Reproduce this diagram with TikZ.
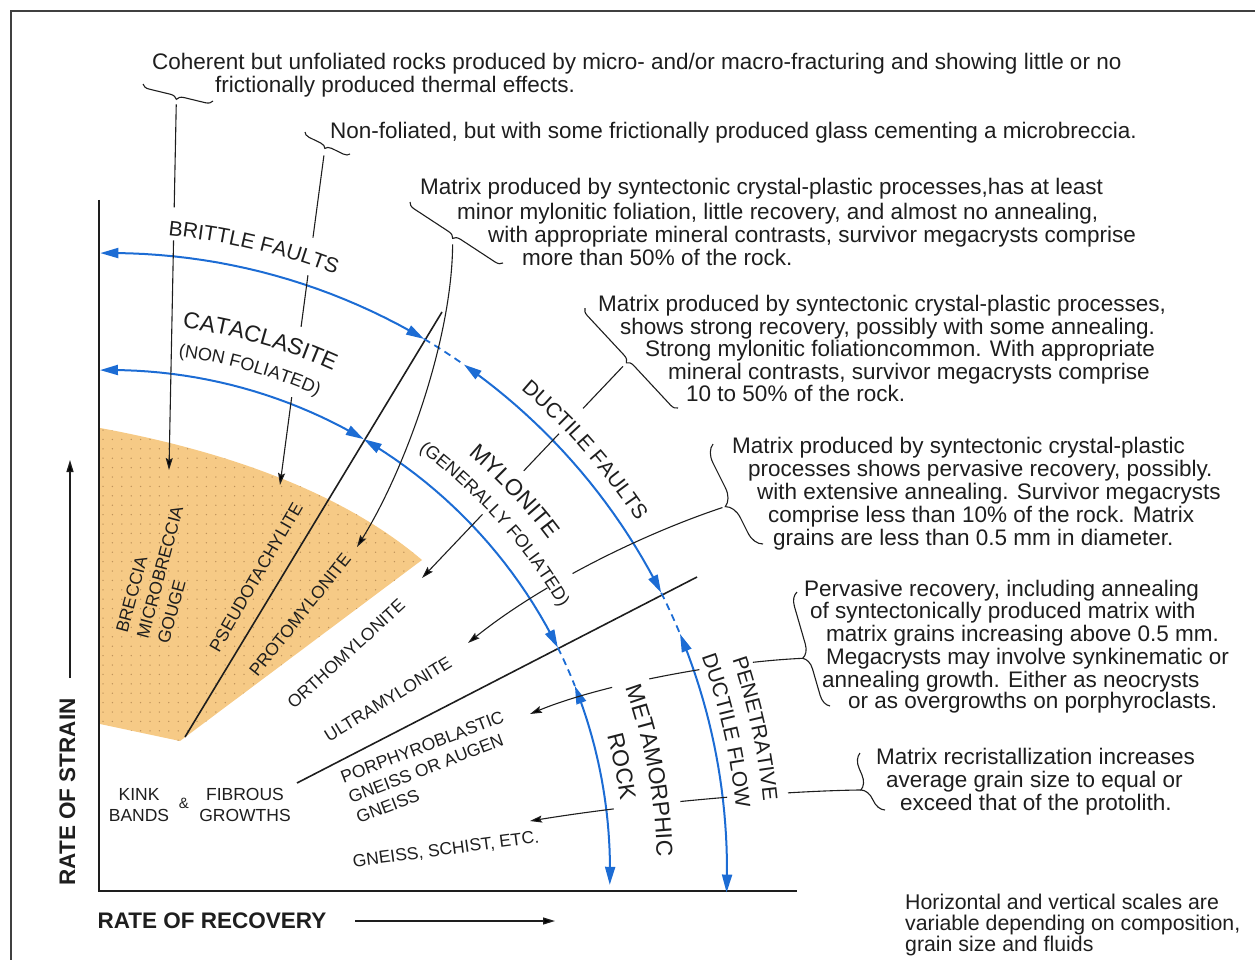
\documentclass[tikz,border=0pt]{standalone}
\usepackage{fontspec}
\setmainfont{Liberation Sans}
\usetikzlibrary{arrows.meta,decorations.text,decorations.pathreplacing,calc}
\definecolor{arcblue}{RGB}{28,108,212}
\definecolor{ochre}{RGB}{246,202,134}
\definecolor{dotc}{RGB}{190,146,90}
\definecolor{ink}{RGB}{30,30,30}
\newcommand{\arcseg}[3]{plot[domain=#2:#3, samples=24] ({110+#1*cos(\x)},{870+#1*sin(\x)})}
\newcommand{\fbody}{\fontsize{22.5}{24}\selectfont}
\newcommand{\fnote}{\fontsize{21.3}{23}\selectfont}
\newcommand{\flbl}{\fontsize{17.5}{21.5}\selectfont}
\newcommand{\faxis}{\fontsize{22.5}{24}\selectfont\bfseries}
\newcommand{\farcA}{\fontsize{21}{23}\selectfont}
\newcommand{\farcB}{\fontsize{23}{25}\selectfont}
\newcommand{\farcC}{\fontsize{18}{20}\selectfont}
\begin{document}
\begin{tikzpicture}[x=1pt,y=-1pt,
  txt/.style={anchor=base west, inner sep=0pt, font=\fbody, text=ink},
  note/.style={anchor=base west, inner sep=0pt, font=\fnote, text=ink},
  lbl/.style={inner sep=0pt, font=\flbl, text=ink},
  axislbl/.style={inner sep=0pt, font=\faxis, text=ink},
  leader/.style={draw=ink, line width=1.1pt},
  leadarrow/.style={leader, -{Stealth[length=12pt,width=7pt,inset=2pt]}},
  brc/.style 2 args={draw=ink, line width=1.1pt, decorate, decoration={brace, amplitude=#1, aspect=#2}},
  bluearc/.style={draw=arcblue, line width=2pt, {Triangle[length=18pt,width=10pt]}-{Triangle[length=18pt,width=10pt]}},
  bluedash/.style={draw=arcblue, line width=1.8pt, dash pattern=on 7pt off 5pt},
  arctext/.style 2 args={decorate, decoration={text along path, text color=ink, text align=center, text={|#1|#2}}},
  blackline/.style={draw=ink, line width=1.6pt},
]
\useasboundingbox (0,0) rectangle (1255,960);

% frame
\coordinate (fr1) at (11,960); \coordinate (fr2) at (11,11); \coordinate (fr3) at (1255,11);
\draw[line width=1.6pt, draw=ink!85] (fr1) -- (fr2) -- (fr3);

% ochre region with dots
\begin{scope}
\clip (100,428) .. controls (220,450) and (340,490) .. (422,560) -- (180,741) -- (100,724) -- cycle;
\fill[ochre] (90,400) rectangle (450,760);
\foreach \i in {0,...,36} \foreach \j in {0,...,35} \fill[dotc] ({103+9.4*\i},{430+9.4*\j}) circle (0.75);
\end{scope}

% axes
\coordinate (ax0) at (99,891); \coordinate (axT) at (99,200); \coordinate (axR) at (797,891);
\draw[line width=2.5pt, draw=ink] (axT) -- (ax0) -- (axR);

% boundary lines
\coordinate (l1a) at (185,737); \coordinate (l1b) at (442,312);
\coordinate (l2a) at (297,783); \coordinate (l2b) at (697,577);
\draw[blackline] (l1a) -- (l1b);
\draw[blackline] (l2a) -- (l2b);

% blue arcs
\coordinate (O) at (110,870);
\draw[bluearc] \arcseg{617}{-90.9}{-59.4};
\draw[bluedash] \arcseg{617}{-59.4}{-55};
\draw[bluearc] \arcseg{617}{-55}{-26.7};
\draw[bluedash] \arcseg{617}{-26.7}{-22.5};
\draw[bluearc] \arcseg{617}{-22.5}{2.1};
\draw[bluearc] \arcseg{500}{-91.15}{-59.5};
\draw[bluearc] \arcseg{500}{-59.5}{-26.4};
\draw[bluedash] \arcseg{500}{-26.4}{-21.6};
\draw[bluearc] \arcseg{500}{-21.6}{1.7};

% arc labels
\path[arctext={\farcA}{BRITTLE FAULTS}] \arcseg{637}{-92}{-62};
\path[arctext={\farcB}{CATACLASITE}] \arcseg{547}{-89}{-59.3};
\path[arctext={\farcC}{(NON FOLIATED)}] \arcseg{518}{-90}{-58.8};
\path[arctext={\farcA}{DUCTILE FAULTS}] \arcseg{632}{-56}{-26.9};
\path[arctext={\farcB}{MYLONITE}] \arcseg{549}{-56}{-30.2};
\path[arctext={\farcC}{(GENERALLY FOLIATED)}] \arcseg{521}{-58}{-25.9};
\path[arctext={\farcB}{METAMORPHIC}] \arcseg{547}{-24}{3.2};
\path[arctext={\farcB}{ROCK}] \arcseg{515}{-22}{-0.9};
\path[arctext={\farcA}{PENETRATIVE}] \arcseg{657}{-24}{-0.7};
\path[arctext={\farcA}{DUCTILE FLOW}] \arcseg{629}{-25}{-0.5};

% rock labels
\node[lbl, rotate=75, align=left] (brec) at (160,572) {BRECCIA\\MICROBRECCIA\\GOUGE};
\node[lbl, rotate=60] (pseudo) at (256,577) {PSEUDOTACHYLITE};
\node[lbl, rotate=51.5] (proto) at (300,615) {PROTOMYLONITE};
\node[lbl, rotate=42.6] (ortho) at (346,654) {ORTHOMYLONITE};
\node[lbl, rotate=31.6] (ultra) at (388,699) {ULTRAMYLONITE};
\node[lbl, rotate=21, align=left] (porph) at (430,767) {PORPHYROBLASTIC\\GNEISS OR AUGEN\\GNEISS};
\node[lbl, rotate=7.6] (gneiss) at (446,850) {GNEISS, SCHIST, ETC.};
\node[lbl, align=center] (kink) at (139,805) {KINK\\BANDS};
\node[lbl, font=\fontsize{15}{17}\selectfont] (amp) at (184,803) {\&};
\node[lbl, align=center] (fibr) at (245,805) {FIBROUS\\GROWTHS};

% axis labels
\node[axislbl, rotate=90] (ylab) at (67.5,792) {RATE OF STRAIN};
\node[axislbl] (xlab) at (212,921) {RATE OF RECOVERY};
\coordinate (ya1) at (70,678); \coordinate (ya2) at (70,460);
\draw[line width=1.3pt, draw=ink, -{Triangle[length=12pt,width=7pt]}] (ya1) -- (ya2);
\coordinate (xa1) at (355,921); \coordinate (xa2) at (555,921);
\draw[line width=1.3pt, draw=ink, -{Triangle[length=12pt,width=7pt]}] (xa1) -- (xa2);

% texts
\node[txt] (t1a) at (152,70) {Coherent but unfoliated rocks produced by micro- and/or macro-fracturing and showing little or no};
\node[txt] (t1b) at (215,93) {frictionally produced thermal effects.};
\node[txt] (t2a) at (330,139) {Non-foliated, but with some frictionally produced glass cementing a microbreccia.};
\node[txt] (t3a) at (420,195) {Matrix produced by syntectonic crystal-plastic processes,has at least};
\node[txt] (t3b) at (457,219) {minor mylonitic foliation, little recovery, and almost no annealing,};
\node[txt] (t3c) at (488,242) {with appropriate mineral contrasts, survivor megacrysts comprise};
\node[txt] (t3d) at (522,265) {more than 50\% of the rock.};
\node[txt] (t4a) at (598,311) {Matrix produced by syntectonic crystal-plastic processes,};
\node[txt] (t4b) at (620,334) {shows strong recovery, possibly with some annealing.};
\node[txt] (t4c) at (645,356) {Strong mylonitic foliationcommon. With appropriate};
\node[txt] (t4d) at (668,379) {mineral contrasts, survivor megacrysts comprise};
\node[txt] (t4e) at (686,401) {10 to 50\% of the rock.};
\node[txt] (t5a) at (732,453) {Matrix produced by syntectonic crystal-plastic};
\node[txt] (t5b) at (748,476) {processes shows pervasive recovery, possibly.};
\node[txt] (t5c) at (757,499) {with extensive annealing. Survivor megacrysts};
\node[txt] (t5d) at (768,522) {comprise less than 10\% of the rock. Matrix};
\node[txt] (t5e) at (773,545) {grains are less than 0.5 mm in diameter.};
\node[txt] (t6a) at (804,596) {Pervasive recovery, including annealing};
\node[txt] (t6b) at (810,618) {of syntectonically produced matrix with};
\node[txt] (t6c) at (826,641) {matrix grains increasing above 0.5 mm.};
\node[txt] (t6d) at (826,664) {Megacrysts may involve synkinematic or};
\node[txt] (t6e) at (822,687) {annealing growth. Either as neocrysts};
\node[txt] (t6f) at (848,708) {or as overgrowths on porphyroclasts.};
\node[txt] (t7a) at (876,764) {Matrix recristallization increases};
\node[txt] (t7b) at (886,787) {average grain size to equal or};
\node[txt] (t7c) at (900,810) {exceed that of the protolith.};
\node[note] (t8a) at (905,909) {Horizontal and vertical scales are};
\node[note] (t8b) at (905,930) {variable depending on composition,};
\node[note] (t8c) at (905,951) {grain size and fluids};

% braces
\coordinate (b1s) at (213,101); \coordinate (b1e) at (143,84);
\coordinate (b2s) at (350,154); \coordinate (b2e) at (305,132);
\coordinate (b3s) at (503,263); \coordinate (b3e) at (410,202);
\coordinate (b4s) at (678,408); \coordinate (b4e) at (585,308);
\coordinate (b5s) at (763,544); \coordinate (b5e) at (713,444);
\coordinate (b6s) at (830,706); \coordinate (b6e) at (797,592);
\coordinate (b7s) at (885,810); \coordinate (b7e) at (860,753);
\draw[brc={7pt}{0.5}] (b1s) -- (b1e);
\draw[brc={6pt}{0.5}] (b2s) -- (b2e);
\draw[brc={7pt}{0.5}] (b3s) -- (b3e);
\draw[brc={7pt}{0.5}] (b4s) -- (b4e);
\draw[brc={17pt}{0.45}] (b5s) -- (b5e);
\draw[brc={13pt}{0.45}] (b6s) -- (b6e);
\draw[brc={14pt}{0.45}] (b7s) -- (b7e);
\coordinate (m1) at ($(b1s)!0.5!(b1e)$);  \coordinate (p1) at ($(m1)!7pt!90:(b1e)$);
\coordinate (m2) at ($(b2s)!0.5!(b2e)$);  \coordinate (p2) at ($(m2)!6pt!90:(b2e)$);
\coordinate (m3) at ($(b3s)!0.5!(b3e)$);  \coordinate (p3) at ($(m3)!7pt!90:(b3e)$);
\coordinate (m4) at ($(b4s)!0.5!(b4e)$);  \coordinate (p4) at ($(m4)!7pt!90:(b4e)$);
\coordinate (m5) at ($(b5s)!0.45!(b5e)$); \coordinate (p5) at ($(m5)!17pt!90:(b5e)$);
\coordinate (m6) at ($(b6s)!0.45!(b6e)$); \coordinate (p6) at ($(m6)!13pt!90:(b6e)$);
\coordinate (m7) at ($(b7s)!0.45!(b7e)$); \coordinate (p7) at ($(m7)!14pt!90:(b7e)$);

% leaders
\coordinate (e1) at (169,470);
\coordinate (e2) at (280,485);
\coordinate (e3) at (357,547);
\coordinate (e4) at (422,578);
\coordinate (e5) at (468,643);
\coordinate (e6) at (530,714);
\coordinate (e7) at (530,821);
\draw[leadarrow, shorten <=5pt, dash pattern=on 103pt off 33pt on 600pt] (p1) -- (e1);
\draw[leadarrow, shorten <=7pt, dash pattern=on 83pt off 38pt on 52pt off 71pt on 600pt] (p2) -- (e2);
\draw[leadarrow, shorten <=6pt] (p3) .. controls (452,340) and (405,470) .. (e3);
\draw[leadarrow, shorten <=5pt, dash pattern=on 58pt off 35pt on 51pt off 60pt on 600pt] (p4) -- (e4);
\draw[leadarrow, shorten <=3pt, dash pattern=on 164pt off 29pt on 600pt] (p5) .. controls (640,535) and (540,585) .. (e5);
\draw[leadarrow, dash pattern=on 50pt off 54pt on 51pt off 38pt on 600pt] (p6) .. controls (720,662) and (600,685) .. (e6);
\draw[leadarrow, dash pattern=on 73pt off 61pt on 47pt off 67pt on 600pt] (p7) .. controls (780,791) and (640,803) .. (e7);
\end{tikzpicture}
\end{document}
